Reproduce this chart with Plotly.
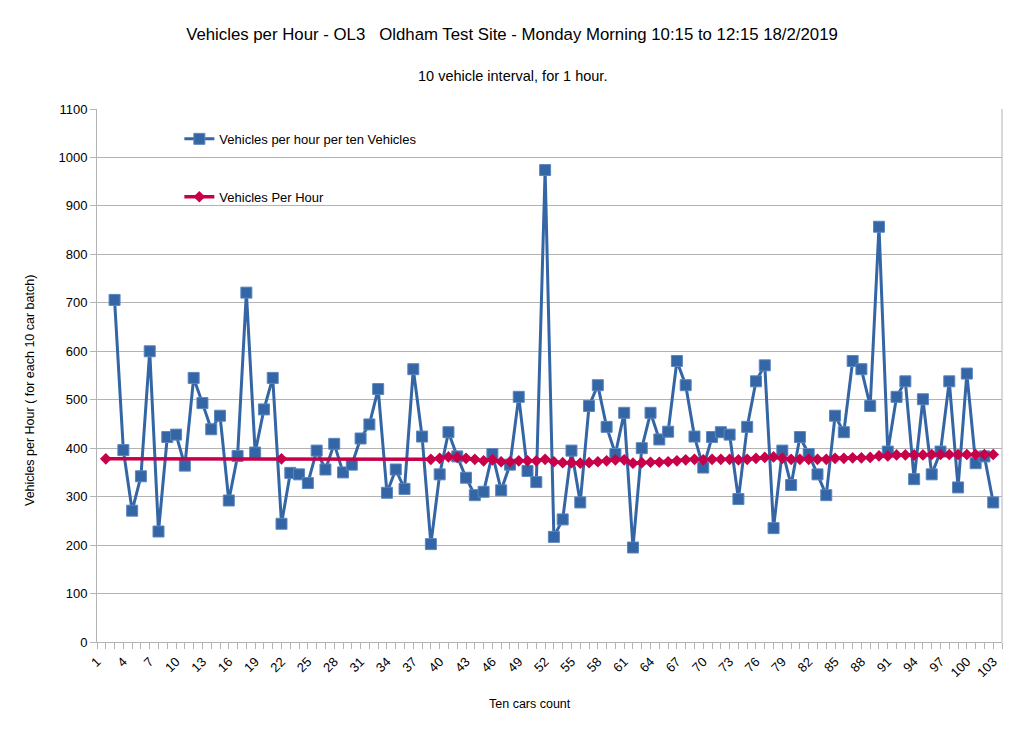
import plotly.graph_objects as go

# ten-car batch number (x categories)
batch_blue = list(range(3, 104))
vph_batch = [
    706, 396, 271, 342, 600, 228, 423, 428, 364, 545,
    493, 439, 467, 292, 384, 721, 391, 480, 545, 244,
    349, 346, 328, 395, 356, 409, 350, 366, 420, 449,
    522, 308, 356, 316, 563, 424, 202, 346, 433, 383,
    339, 303, 310, 388, 313, 366, 506, 353, 330, 974,
    217, 253, 395, 288, 487, 530, 444, 388, 473, 195,
    400, 473, 418, 434, 580, 530, 424, 360, 423, 433,
    428, 295, 444, 538, 571, 235, 395, 324, 423, 388,
    346, 303, 467, 433, 580, 563, 487, 857, 393, 506,
    538, 336, 501, 346, 393, 538, 319, 554, 369, 383,
    288,
]

batch_red = [2, 22] + list(range(39, 104))
vph_running = [
    378, 378,
    377, 379, 382, 381, 379, 377, 374, 376, 372, 372, 374, 374, 374, 377,
    372, 370, 370, 369, 370, 372, 374, 376, 376, 369, 370, 371, 371, 372, 374, 376, 377,
    376, 377, 377, 377, 376, 377, 379, 381, 382, 379, 377, 377, 377, 377, 377, 379, 379,
    380, 380, 381, 384, 384, 386, 386, 386, 386, 387, 387, 387, 387, 387, 387, 387, 387,
]

x_ticks = list(range(1, 104, 3))
y_ticks = list(range(0, 1101, 100))

blue = "#3465a4"
red = "#c8004a"
font = "Liberation Sans, Arial, sans-serif"

# page body has an 8px margin, so the figure is sized to fit inside it
W, H = 1015, 724
# plot area in page pixels: x 97..1002, y 109..642
def px(x):
    return (x - 97) / 905
def py(y):
    return (642 - y) / 533

fig = go.Figure()
fig.add_trace(go.Scatter(
    x=batch_blue, y=vph_batch,
    name="Vehicles per hour per ten Vehicles",
    mode="lines+markers",
    line={"color": blue, "width": 3},
    marker={"symbol": "square", "size": 11, "color": blue,
            "line": {"color": "#5a86c0", "width": 1}},
    legendgroup="a",
))
fig.add_trace(go.Scatter(
    x=batch_red, y=vph_running,
    name="Vehicles Per Hour",
    mode="lines+markers",
    line={"color": red, "width": 3.5},
    marker={"symbol": "diamond", "size": 9, "color": red},
    legendgroup="b",
))

fig.update_layout(
    width=W, height=H,
    margin=dict(l=89, r=21, t=101, b=90),
    paper_bgcolor="white", plot_bgcolor="white",
    font=dict(family=font, size=13, color="#000000"),
    title=dict(
        text="Vehicles per Hour - OL3\u00a0\u00a0\u00a0Oldham Test Site - Monday Morning 10:15 to 12:15 18/2/2019",
        x=504 / W, xanchor="center", xref="container",
        y=1 - 26 / H, yanchor="middle", yref="container",
        font=dict(size=16.8, family=font, color="#000000"),
    ),
    annotations=[
        dict(text="10 vehicle interval, for 1 hour.",
             xref="paper", yref="paper", x=px(512), y=py(76),
             xanchor="center", yanchor="middle",
             showarrow=False, font=dict(size=14.5)),
        dict(text="Ten cars count",
             xref="paper", yref="paper", x=px(530), y=py(704),
             xanchor="center", yanchor="middle",
             showarrow=False, font=dict(size=12.5)),
        dict(text="Vehicles per Hour ( for each 10 car batch)",
             xref="paper", yref="paper", x=px(30), y=py(391),
             xanchor="center", yanchor="middle", textangle=-90,
             showarrow=False, font=dict(size=12.5)),
    ],
    legend=dict(
        x=0.091, y=0.972, xanchor="left", yanchor="top",
        bgcolor="rgba(0,0,0,0)", tracegroupgap=38,
        font=dict(size=13), itemwidth=30,
    ),
    xaxis=dict(
        range=[1, 104],
        tickvals=x_ticks, ticktext=[str(v) for v in x_ticks],
        tickangle=-45, ticks="outside", ticklen=6, tickcolor="#b3b3b3",
        minor=dict(dtick=1, tick0=1, ticks="outside", ticklen=6, tickcolor="#b3b3b3", showgrid=False),
        showgrid=False, zeroline=False,
        showline=True, linecolor="#b3b3b3", linewidth=1,
        tickfont=dict(size=13),
    ),
    yaxis=dict(
        range=[0, 1100], tickvals=y_ticks,
        ticks="outside", ticklen=6, tickcolor="#b3b3b3",
        showgrid=True, gridcolor="#b3b3b3", gridwidth=1,
        zeroline=False, showline=True, linecolor="#b3b3b3", linewidth=1,
        tickfont=dict(size=13),
    ),
    shapes=[dict(type="line", xref="paper", yref="paper", x0=1, x1=1, y0=0, y1=1,
                 line=dict(color="#b3b3b3", width=1))],
)

fig.write_html("out.html")
